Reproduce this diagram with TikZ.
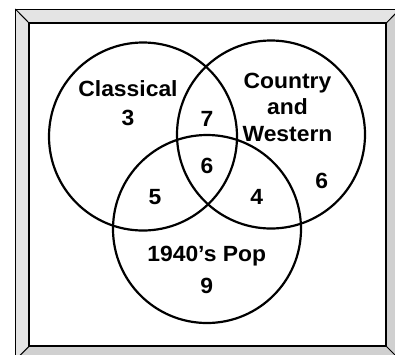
\documentclass[tikz,border=0pt]{standalone}
\usepackage{fontspec}
\newfontfamily\lblfont{Liberation Sans}[UprightFont={* Bold}, FakeStretch=1.04]
\definecolor{bevlight}{HTML}{E4E4E4}
\definecolor{bevdark}{HTML}{D0D0D0}
\begin{document}
\begin{tikzpicture}[x=1pt,y=-1pt,
  lbl/.style={font=\lblfont\fontsize{22}{26.3}\selectfont, align=center, inner sep=0pt, anchor=base},
  setcircle/.style={circle, draw=black, line width=2.2pt, minimum size=188pt, inner sep=0pt}]
\useasboundingbox (0,0) rectangle (395,354);
\fill[white] (0,0) rectangle (395,354);
% frame corners
\coordinate (o1) at (15.3,9);
\coordinate (o2) at (400,9);
\coordinate (o3) at (400,360);
\coordinate (o4) at (15.3,360);
\coordinate (i1) at (29.3,23.3);
\coordinate (i2) at (386,23.3);
\coordinate (i3) at (386,346);
\coordinate (i4) at (29.3,346);
\fill[bevlight] (o1) -- (o2) -- (i2) -- (i1) -- cycle;
\fill[bevlight] (o1) -- (i1) -- (i4) -- (o4) -- cycle;
\fill[bevdark] (o2) -- (o3) -- (i3) -- (i2) -- cycle;
\fill[bevdark] (o4) -- (i4) -- (i3) -- (o3) -- cycle;
\draw[line width=1pt] (o1) -- (o2) -- (o3) -- (o4) -- cycle;
\draw[line width=1pt] (o1) -- (i1) (o2) -- (i2) (o3) -- (i3) (o4) -- (i4);
\draw[line width=2pt, fill=white] (i1) -- (i2) -- (i3) -- (i4) -- cycle;
% circles
\node[setcircle] (classical) at (143,136.5) {};
\node[setcircle] (country) at (271,134.5) {};
\node[setcircle] (pop) at (207,229) {};
% labels
\node[lbl] (tclassical) at (128,96.5) {Classical};
\node[lbl] (nclassical) at (128,125) {3};
\node[lbl] (tcountry) at (287.5,141) {Country\\and\\Western};
\node[lbl] (ncountry) at (321.7,188) {6};
\node[lbl] (n7) at (207,126) {7};
\node[lbl] (n6) at (207,173.5) {6};
\node[lbl] (n5) at (155,204) {5};
\node[lbl] (n4) at (256.7,204) {4};
\node[lbl] (tpop) at (206.7,261.5) {1940’s Pop};
\node[lbl] (npop) at (206.7,293) {9};
\end{tikzpicture}
\end{document}
